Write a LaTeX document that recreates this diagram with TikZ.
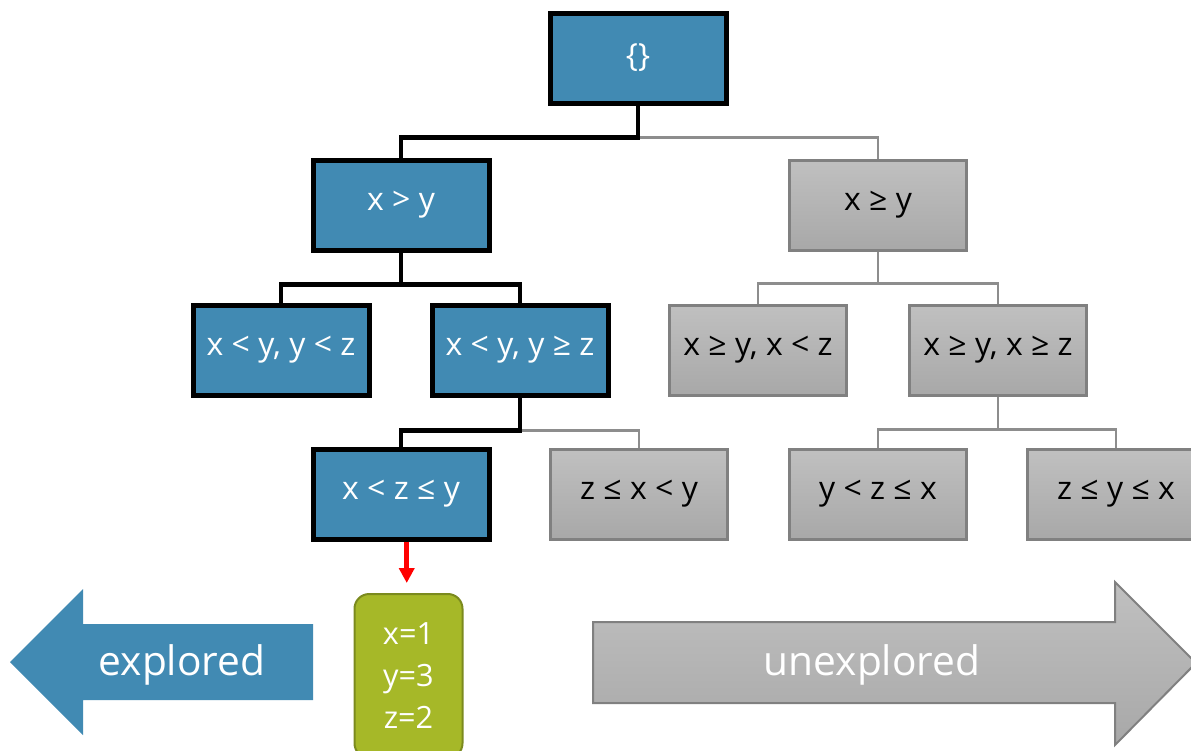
\documentclass[tikz,border=0pt]{standalone}
\usepackage{fontspec}
\setmainfont{Open Sans}
\usetikzlibrary{arrows.meta}
\definecolor{expblue}{HTML}{418AB3}
\definecolor{gtop}{HTML}{C0C0C0}
\definecolor{gbot}{HTML}{A8A8A8}
\definecolor{gline}{HTML}{808080}
\definecolor{modelgreen}{HTML}{A6B828}
\definecolor{modelline}{HTML}{7B8A1E}
\tikzset{
  x=0.75pt, y=-0.75pt,
  tnode/.style={rectangle, inner sep=0pt, minimum height=67.5pt,
    font=\fontsize{24}{28}\selectfont},
  explnode/.style={tnode, minimum width=132pt, fill=expblue, draw=black,
    line width=3.75pt, text=white},
  opennode/.style={tnode, minimum width=132.75pt, top color=gtop,
    bottom color=gbot, draw=gline, line width=2.25pt, text=black},
  econn/.style={draw=black, line width=3.4pt},
  uconn/.style={draw=gline!90!white, line width=1.8pt},
  redarr/.style={draw=red, line width=3.4pt,
    -{Triangle[length=11.25pt,width=11.25pt]}},
  model/.style={rectangle, rounded corners=11pt, minimum width=81pt,
    minimum height=123pt, fill=modelgreen, draw=modelline, line width=1.5pt,
    text=white, align=center, inner sep=0pt,
    font=\fontsize{23}{31.5}\selectfont},
  bigtext/.style={text=white, font=\fontsize{30.5}{34}\selectfont, inner sep=0pt}
}
\begin{document}
\begin{tikzpicture}
\useasboundingbox (0,0) rectangle (1191,750);

% search tree
\node[explnode] (root) at (638,58)  {\{\}};
\node[explnode] (xgy)  at (401,205) {x > y};
\node[opennode] (xgey) at (878,205) {x ≥ y};
\node[explnode] (a1)   at (281,350) {x < y, y < z};
\node[explnode] (a2)   at (520,350) {x < y, y ≥ z};
\node[opennode] (b1)   at (758,350) {x ≥ y, x < z};
\node[opennode] (b2)   at (998,350) {x ≥ y, x ≥ z};
\node[explnode] (c1)   at (401,494) {x < z ≤ y};
\node[opennode] (c2)   at (639,494) {z ≤ x < y};
\node[opennode] (d1)   at (878,494) {y < z ≤ x};
\node[opennode] (d2)   at (1116,494) {z ≤ y ≤ x};

% unexplored branches
\draw[uconn] (root.south) ++(0,32) -| (xgey.north);
\draw[uconn] (xgey.south) -- ++(0,32) -| (b1.north);
\draw[uconn] (xgey.south) ++(0,32) -| (b2.north);
\draw[uconn] (a2.south) ++(0,33) -| (c2.north);
\draw[uconn] (b2.south) -- ++(0,33) -| (d1.north);
\draw[uconn] (b2.south) ++(0,33) -| (d2.north);

% explored branches
\draw[econn] (root.south) -- ++(0,32) -| (xgy.north);
\draw[econn] (xgy.south) -- ++(0,32) -| (a1.north);
\draw[econn] (xgy.south) ++(0,32) -| (a2.north);
\draw[econn] (a2.south) -- ++(0,33) -| (c1.north);

% concrete model of the current path
\node[model] (model) at (408.5,676) {x=1\\y=3\\z=2};
\draw[redarr] ([xshift=4.3pt]c1.south) -- ([xshift=4.3pt]c1.south |- model.north)
  [shorten >=7.5pt];

% legend arrows
\fill[expblue] (10,662) -- (83,589) -- (83,624) -- (313,624) -- (313,700)
  -- (83,700) -- (83,735) -- cycle;
\node[bigtext] (explored) at (182,665) {explored};

\draw[gline, line width=1.5pt, top color=gtop, bottom color=gbot]
  (593,622) -- (1115,622) -- (1115,582) -- (1196,663) -- (1115,745)
  -- (1115,703) -- (593,703) -- cycle;
\node[bigtext] (unexplored) at (872,665) {unexplored};
\end{tikzpicture}
\end{document}
